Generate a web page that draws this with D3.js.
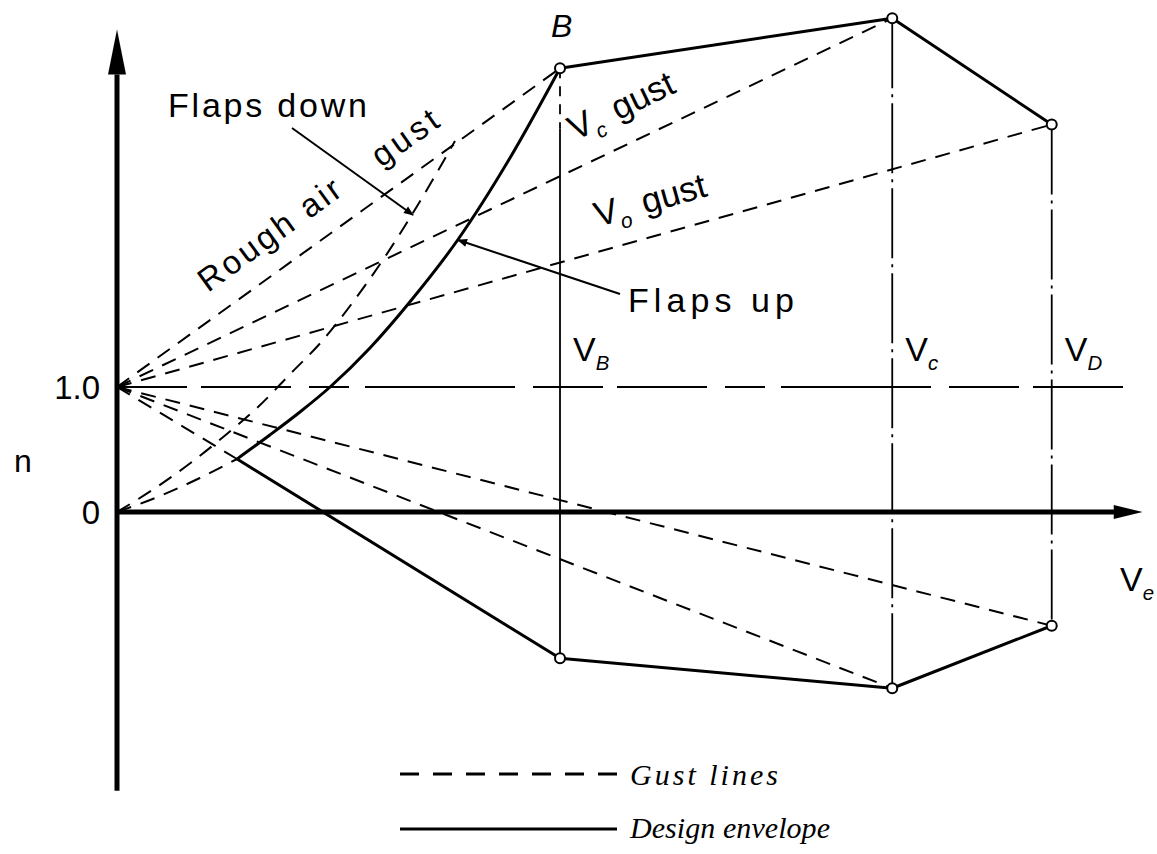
<!DOCTYPE html>
<html><head><meta charset="utf-8">
<script src="https://cdn.jsdelivr.net/npm/d3@7"></script>
<style>body{margin:0;background:#fff} svg{display:block}</style>
</head><body>
<svg id="c" width="1157" height="854"></svg>
<script>
// ---------- data (V in arbitrary speed units, n = load factor) ----------
const speedNames = ["B", "c", "D"];
const keySpeeds = [100, 175, 211];              // V_B, V_C, V_D
const envTopN = [3.55, 3.95, 3.1];              // upper envelope corners
const envBottomN = [-1.17, -1.41, -0.91];       // lower envelope corners
const gustStartN = 1.0;                         // gust lines start at n = 1, V = 0
const negStallV = 27.1;                         // lower-left corner of envelope
const negStallN = 0.424;
// stall curve, flaps up (first 4 points dashed, rest solid)
const stallUpV = [0, 9.7, 18.7, 27.1, 34.5, 41.3, 48.1, 57.1, 66.1, 76.9, 88.7, 100];
const stallUpN = [0, 0.128, 0.272, 0.424, 0.616, 0.8, 1.0, 1.312, 1.68, 2.176, 2.832, 3.55];
// stall curve, flaps down (dashed)
const stallDownV = [0, 9.0, 16.9, 24.8, 31.6, 39.1, 46.5, 52.6, 59.4, 66.8, 76.3];
const stallDownN = [0, 0.2, 0.4, 0.624, 0.832, 1.104, 1.376, 1.648, 1.984, 2.392, 2.968];
const nTickValues = [0, 1.0];
const nTickLabels = ["0", "1.0"];

// ---------- scales ----------
const svg = d3.select("#c");
const x = d3.scaleLinear().domain([0, 230]).range([117, 117 + 230 * 4.43]);
const y = d3.scaleLinear().domain([0, 1]).range([512, 387]);

const line = d3.line().x(d => x(d.V)).y(d => y(d.n));
const curve = d3.line().x(d => x(d.V)).y(d => y(d.n)).curve(d3.curveMonotoneX);

const envTop = keySpeeds.map((V, i) => ({V, n: envTopN[i]}));
const envBot = keySpeeds.map((V, i) => ({V, n: envBottomN[i]}));
const up = stallUpV.map((V, i) => ({V, n: stallUpN[i]}));
const down = stallDownV.map((V, i) => ({V, n: stallDownN[i]}));
const g0 = {V: 0, n: gustStartN};

const SANS = "'Liberation Sans', Arial, Helvetica, sans-serif";
const SERIF = "'Liberation Serif', 'Times New Roman', serif";

// ---------- arrow marker ----------
svg.append("defs").append("marker")
  .attr("id", "ah").attr("viewBox", "0 0 10 10").attr("refX", 9).attr("refY", 5)
  .attr("markerWidth", 16).attr("markerHeight", 10).attr("markerUnits", "userSpaceOnUse")
  .attr("orient", "auto")
  .append("path").attr("d", "M0,1 L10,5 L0,9 Z").attr("fill", "#000");

const gust = {stroke: "#000", "stroke-width": 2, "stroke-dasharray": "15,10", fill: "none"};
function attrs(sel, o) { Object.entries(o).forEach(([k, v]) => sel.attr(k, v)); return sel; }

// ---------- n = 1 reference line ----------
attrs(svg.append("path").attr("d", line([g0, {V: 228, n: 1}])),
  {stroke: "#000", "stroke-width": 1.8, fill: "none", "stroke-dasharray": "70,14,90,18,40,16,150,18"});

// ---------- vertical speed lines ----------
keySpeeds.forEach((V, i) => {
  const split = i === 0 ? 3.07 : envTopN[i];
  if (i === 0) attrs(svg.append("path").attr("d", line([{V, n: envTopN[i]}, {V, n: split}])),
    {stroke: "#000", "stroke-width": 1.8, "stroke-dasharray": "10,8", fill: "none"});
  attrs(svg.append("path").attr("d", line([{V, n: split}, {V, n: envBottomN[i]}])),
    {stroke: "#000", "stroke-width": 1.8, fill: "none",
     "stroke-dasharray": i === 0 ? null : "70,6,3,6"});
});

// ---------- gust lines ----------
envTop.forEach(p => attrs(svg.append("path").attr("d", line([g0, p])), gust));
envBot.forEach((p, i) => {
  if (i === 0) attrs(svg.append("path").attr("d", line([g0, {V: negStallV, n: negStallN}])), gust);
  else attrs(svg.append("path").attr("d", line([g0, p])), gust);
});

// ---------- stall curves ----------
attrs(svg.append("path").attr("d", curve(down)), gust);
attrs(svg.append("path").attr("d", curve(up.slice(0, 4))), gust);

// ---------- design envelope ----------
const env = {stroke: "#000", "stroke-width": 3, fill: "none", "stroke-linejoin": "round"};
attrs(svg.append("path").attr("d", curve(up.slice(3))), env);
attrs(svg.append("path").attr("d", line(envTop)), env);
attrs(svg.append("path").attr("d", line([...envBot].reverse().concat([{V: negStallV, n: negStallN}]))), env);

// ---------- axes ----------
const x0 = x(0), y0 = y(0);
svg.append("line").attr("x1", x0).attr("x2", x0).attr("y1", y(-2.23)).attr("y2", y(3.5))
  .attr("stroke", "#000").attr("stroke-width", 5);
svg.append("path").attr("d", `M${x0},${y(3.86)} L${x0 - 9},${y(3.5)} L${x0 + 9},${y(3.5)} Z`).attr("fill", "#000");
svg.append("line").attr("x1", x0).attr("x2", x(226)).attr("y1", y0).attr("y2", y0)
  .attr("stroke", "#000").attr("stroke-width", 5);
svg.append("path").attr("d", `M${x(231.5)},${y0} L${x(225)},${y0 - 7} L${x(225)},${y0 + 7} Z`).attr("fill", "#000");

const yAxis = d3.axisLeft(y).tickValues(nTickValues).tickSize(0).tickPadding(17)
  .tickFormat((d, i) => nTickLabels[i]);
const ya = svg.append("g").attr("transform", `translate(${x0},0)`).call(yAxis);
ya.select(".domain").remove();
ya.selectAll("text").attr("font-family", SANS).attr("font-size", 33).attr("fill", "#000").attr("dy", "0.35em");

svg.append("text").attr("x", 14).attr("y", 472).text("n")
  .attr("font-family", SANS).attr("font-size", 32);

// ---------- corner circles ----------
envTop.concat(envBot).forEach(p => svg.append("circle").attr("cx", x(p.V)).attr("cy", y(p.n)).attr("r", 5)
  .attr("fill", "#fff").attr("stroke", "#000").attr("stroke-width", 2));

// ---------- labels ----------
function vlabel(xp, yp, sub, size, rot, len) {
  const t = svg.append("text").attr("font-family", SANS).attr("font-size", size)
    .attr("transform", `translate(${xp},${yp}) rotate(${rot || 0})`);
  t.append("tspan").text("V");
  t.append("tspan").attr("font-size", size * 0.6).attr("font-style", "italic").attr("dy", size * 0.25).text(sub);
  return t;
}
keySpeeds.forEach((V, i) => vlabel(x(V) + 13, 361, speedNames[i], 34));
vlabel(1120, 591, "e", 34);

svg.append("text").attr("x", 551).attr("y", 37).text("B")
  .attr("font-family", SANS).attr("font-size", 32).attr("font-style", "italic");

// gust labels along lines
svg.append("text").attr("font-family", SANS).attr("font-size", 33)
  .attr("transform", "translate(208,293) rotate(-36)")
  .text("Rough air").attr("textLength", 168).attr("lengthAdjust", "spacing");
svg.append("text").attr("font-family", SANS).attr("font-size", 33)
  .attr("transform", "translate(381,168) rotate(-35)")
  .text("gust").attr("textLength", 74).attr("lengthAdjust", "spacing");

const vc = vlabel(575, 141, "c", 35, -25.6);
vc.append("tspan").attr("dy", -35 * 0.25).attr("dx", 4).text(" gust");
const vo = vlabel(598, 227, "o", 35, -15.7);
vo.append("tspan").attr("dy", -35 * 0.25).attr("dx", 4).text(" gust");

// flaps annotations
svg.append("text").attr("x", 168).attr("y", 117).text("Flaps down")
  .attr("font-family", SANS).attr("font-size", 34).attr("textLength", 199).attr("lengthAdjust", "spacing");
svg.append("line").attr("x1", 292).attr("y1", 128).attr("x2", 413).attr("y2", 215)
  .attr("stroke", "#000").attr("stroke-width", 2).attr("marker-end", "url(#ah)");
svg.append("text").attr("x", 628).attr("y", 312).text("Flaps up")
  .attr("font-family", SANS).attr("font-size", 34).attr("textLength", 166).attr("lengthAdjust", "spacing");
svg.append("line").attr("x1", 620).attr("y1", 294).attr("x2", 458).attr("y2", 240)
  .attr("stroke", "#000").attr("stroke-width", 2).attr("marker-end", "url(#ah)");

// ---------- legend ----------
svg.append("line").attr("x1", 400).attr("x2", 617).attr("y1", 774).attr("y2", 774)
  .attr("stroke", "#000").attr("stroke-width", 3).attr("stroke-dasharray", "19,14");
svg.append("line").attr("x1", 400).attr("x2", 617).attr("y1", 829).attr("y2", 829)
  .attr("stroke", "#000").attr("stroke-width", 3);
svg.append("text").attr("x", 630).attr("y", 785).text("Gust lines")
  .attr("font-family", SERIF).attr("font-style", "italic").attr("font-size", 30)
  .attr("textLength", 148).attr("lengthAdjust", "spacing");
svg.append("text").attr("x", 630).attr("y", 838).text("Design envelope")
  .attr("font-family", SERIF).attr("font-style", "italic").attr("font-size", 30)
  .attr("textLength", 200).attr("lengthAdjust", "spacing");
</script>
</body></html>
